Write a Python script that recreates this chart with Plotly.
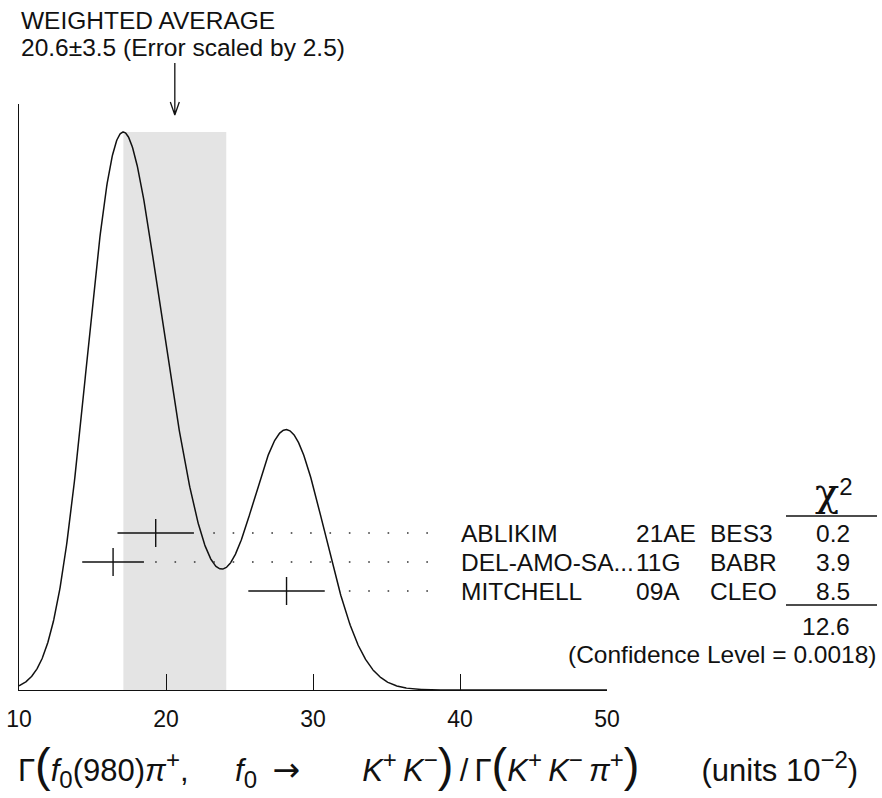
import numpy as np
import plotly.graph_objects as go

# ---------------- data ----------------
names = ["ABLIKIM", "DEL-AMO-SA...", "MITCHELL"]
years = ["21AE", "11G", "09A"]
experiments = ["BES3", "BABR", "CLEO"]
values = [19.3, 16.4, 28.2]
errors = [2.6, 2.1, 2.6]
chi2 = ["0.2", "3.9", "8.5"]
chi2_total = "12.6"
confidence = "0.0018"
avg = 20.6
avg_err = 3.5
scale_factor = 2.5
x_ticks = [10, 20, 30, 40, 50]
x_range = [10, 50]

# ---------------- layout constants (pixels) ----------------
W, H = 882, 798
PL, PR, PT, PB = 19, 607, 104, 690          # plot area edges in px
PW, PH = PR - PL, PB - PT
PEAK = 558                                   # ideogram height in px
ROW0, ROW_STEP = 157, 29                     # first row height above axis, row spacing
FONT = "Liberation Sans, Arial, Helvetica, sans-serif"
INK = "#111111"
FS = 24.5

def px2paper_x(px):
    return (px - PL) / PW

def px2paper_y(py):
    return (PB - py) / PH

# ---------------- ideogram ----------------
xs = np.linspace(x_range[0], x_range[1], 1201)
ideo = np.zeros_like(xs)
for v, e in zip(values, errors):
    ideo += (1.0 / e**2) * np.exp(-0.5 * ((xs - v) / e) ** 2)
ideo = ideo / ideo.max() * PEAK

row_y = [ROW0 - i * ROW_STEP for i in range(len(values))]

fig = go.Figure()

fig.add_shape(type="rect", xref="x", yref="y",
              x0=avg - avg_err, x1=avg + avg_err, y0=0, y1=PEAK,
              fillcolor="#e4e4e4", line=dict(width=0), layer="below")

fig.add_trace(go.Scatter(x=xs, y=ideo, mode="lines",
                         line=dict(color=INK, width=1.5), hoverinfo="skip"))

# dotted leader lines (dots on a common grid, omitted near the error bar)
units_per_px = (x_range[1] - x_range[0]) / PW
dot_step = 19.37 * units_per_px
dot_end = x_range[0] + (445.7 - PL) * units_per_px
for v, e, y in zip(values, errors, row_y):
    hi = v + e
    start = dot_end
    while start - dot_step >= hi + 0.5:
        start -= dot_step
    fig.add_trace(go.Scatter(x=[start, dot_end], y=[y, y], mode="lines",
                             line=dict(color="#333333", width=1.6,
                                       dash="1.6px,17.77px"),
                             hoverinfo="skip"))

# measurements with error bars
fig.add_trace(go.Scatter(
    x=values, y=row_y, mode="markers",
    marker=dict(symbol="line-ns", size=20, color=INK,
                line=dict(width=1.4, color=INK)),
    error_x=dict(type="data", array=errors, width=0, thickness=1.4, color=INK),
    hoverinfo="skip"))

# arrow pointing to weighted average
fig.add_shape(type="path", xref="x", yref="paper",
              xsizemode="pixel", ysizemode="pixel",
              xanchor=avg, yanchor=px2paper_y(115),
              path="M0,0 L0,52 M0,0 L-4.5,13 M0,0 L4.5,13",
              line=dict(color=INK, width=1.3))

ann = []
# header text
ann.append(dict(text="WEIGHTED AVERAGE", x=px2paper_x(19), y=px2paper_y(20),
                xanchor="left", yanchor="middle"))
ann.append(dict(text=f"{avg}±{avg_err} (Error scaled by {scale_factor})",
                x=px2paper_x(19), y=px2paper_y(47),
                xanchor="left", yanchor="middle"))

# table rows
for i, y in enumerate(row_y):
    ann.append(dict(text=names[i], x=px2paper_x(459), y=px2paper_y(PB - y),
                    xanchor="left", yanchor="middle"))
    ann.append(dict(text=years[i], x=px2paper_x(634), y=px2paper_y(PB - y),
                    xanchor="left", yanchor="middle"))
    ann.append(dict(text=experiments[i], x=px2paper_x(708), y=px2paper_y(PB - y),
                    xanchor="left", yanchor="middle"))
    ann.append(dict(text=chi2[i], x=px2paper_x(852), y=px2paper_y(PB - y),
                    xanchor="right", yanchor="middle"))

ann.append(dict(text="<span style='font-family:DejaVu Serif;font-size:40px'>χ</span>"
                     "<sup><span style='font-size:24px'>2</span></sup>",
                x=px2paper_x(834), y=px2paper_y(492),
                xanchor="center", yanchor="middle", font=dict(size=26)))
ann.append(dict(text=chi2_total, x=px2paper_x(852), y=px2paper_y(626),
                xanchor="right", yanchor="middle"))
ann.append(dict(text=f"(Confidence Level = {confidence})", x=px2paper_x(879),
                y=px2paper_y(654), xanchor="right", yanchor="middle"))

EM, EN, TH = "\u2003", "\u2002", "\u2009"
big = "<span style='font-size:47px'>%s</span>"
def sup(s):
    return "<sup><span style='font-size:24px'>%s</span></sup>" % s
def sub(s):
    return "<sub><span style='font-size:24px'>%s</span></sub>" % s
arrow = "<span style='font-family:DejaVu Sans;font-size:33px'>→</span>"
title = ("Γ" + big % "(" + "<i>f</i>" + sub("0") + "(980)<i>π</i>" + sup("+") + "," + EM + EN +
         "<i>f</i>" + sub("0") + EN + arrow + EM + EM +
         "<i>K</i>" + sup("+") + TH + "<i>K</i>" + sup("−") + big % ")" + TH +
         "/" + TH + "Γ" + big % "(" + "<i>K</i>" + sup("+") + TH + "<i>K</i>" + sup("−") + TH +
         "<i>π</i>" + sup("+") + big % ")" + EM + EM + "(units 10" + sup("−2") + ")")
ann.append(dict(text=title, x=px2paper_x(438), y=px2paper_y(765),
                xanchor="center", yanchor="middle", font=dict(size=31)))

for a in ann:
    a.setdefault("xref", "paper")
    a.setdefault("yref", "paper")
    a.setdefault("showarrow", False)
    a.setdefault("font", dict(size=FS))
    a["font"].setdefault("family", FONT)
    a["font"].setdefault("color", INK)
fig.update_layout(annotations=ann)

# chi2 rules
for py in (516, 605):
    fig.add_shape(type="line", xref="paper", yref="paper",
                  x0=px2paper_x(786), x1=px2paper_x(877),
                  y0=px2paper_y(py), y1=px2paper_y(py),
                  line=dict(color=INK, width=1.3))

fig.update_layout(
    width=W, height=H,
    margin=dict(l=PL, r=W - PR, t=PT, b=H - PB, pad=0, autoexpand=False),
    paper_bgcolor="white", plot_bgcolor="white",
    showlegend=False,
    font=dict(family=FONT, color=INK),
    xaxis=dict(range=x_range, tickvals=x_ticks, ticks="inside", ticklen=16,
               tickwidth=1.3, tickcolor=INK, showline=True, linecolor=INK,
               linewidth=1.3, showgrid=False, zeroline=False,
               tickfont=dict(size=23, family=FONT, color=INK),
               ticklabelstandoff=8),
    yaxis=dict(range=[0, PH], showline=True, linecolor=INK, linewidth=1.3,
               ticks="", showticklabels=False, showgrid=False, zeroline=False),
)

fig.write_html("out.html")
